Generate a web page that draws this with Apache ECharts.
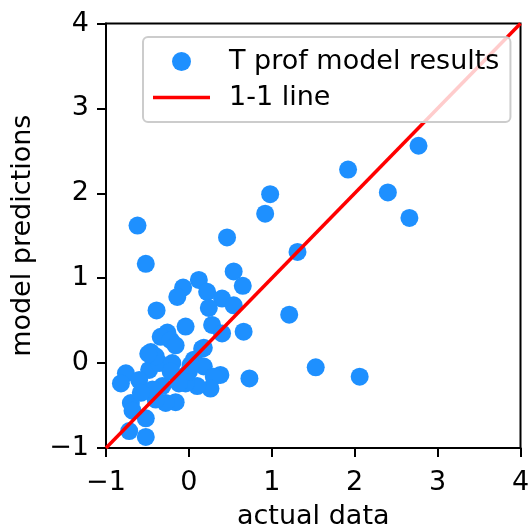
<!DOCTYPE html>
<html>
<head>
<meta charset="utf-8">
<script src="https://cdn.jsdelivr.net/npm/echarts@6/dist/echarts.min.js"></script>
<style>html,body{margin:0;padding:0;background:#fff;}#c{width:530px;height:528px;}</style>
</head>
<body>
<div id="c"></div>
<script>
// ---- data ----
const seriesNames = ['T prof model results', '1-1 line'];
const actualData = [2.77, 1.92, 2.40, 2.66, 0.98, 0.92, 0.46, 1.31, -0.62, -0.52, 0.54, 0.65, 0.12, -0.07, -0.14, 0.22, 0.40, 0.54, 0.24, -0.39, 1.21, -0.04, 0.28, 0.40, 0.66, -0.26, -0.34, -0.22, 0.18, -0.46, 1.53, 2.06, 0.73,
  -0.76, -0.82, -0.70, -0.68, -0.52, -0.72, -0.52, -0.16, -0.28, -0.40, -0.48, -0.60, -0.36, -0.20, -0.32, -0.44, -0.08, 0.06, 0.18, 0.38, 0.30, 0.26, 0.10, -0.04, 0.00, -0.22, -0.58, -0.40, 0.02, -0.12, -0.16, 0.16, -0.49];
const modelPred = [2.56, 2.28, 2.01, 1.71, 1.99, 1.76, 1.48, 1.31, 1.62, 1.17, 1.08, 0.91, 0.98, 0.89, 0.78, 0.84, 0.76, 0.68, 0.65, 0.62, 0.57, 0.43, 0.45, 0.35, 0.37, 0.36, 0.31, 0.27, 0.18, 0.13, -0.05, -0.16, -0.18,
  -0.12, -0.24, -0.47, -0.56, -0.65, -0.80, -0.87, -0.46, -0.47, -0.43, -0.08, -0.20, 0.00, 0.00, -0.27, -0.31, -0.16, 0.04, -0.04, -0.14, -0.16, -0.30, -0.27, -0.24, -0.10, -0.10, -0.35, 0.08, -0.02, -0.24, 0.21, 0.17, 0.11];
const oneToOneX = [-1, 4];
const oneToOneY = [-1, 4];
const xTicks = [-1, 0, 1, 2, 3, 4];
const yTicks = [-1, 0, 1, 2, 3, 4];
// ---------------

const FONT = 'DejaVu Sans';
const FS = 27;
const fmt = v => (v < 0 ? '\u2212' + Math.abs(v) : String(v));
const scatterData = actualData.map((x, i) => [x, modelPred[i]]);
const lineData = oneToOneX.map((x, i) => [x, oneToOneY[i]]);

const axisCommon = {
  type: 'value',
  interval: 1,
  splitLine: { show: false },
  axisLine: { show: true, onZero: false, lineStyle: { color: '#000', width: 2 } },
  axisTick: { show: true, length: 9, lineStyle: { color: '#000', width: 2 } },
  nameLocation: 'middle',
  nameTextStyle: { fontFamily: FONT, fontSize: FS, color: '#000' }
};

const chart = echarts.init(document.getElementById('c'), null, { renderer: 'canvas' });
chart.setOption({
  animation: false,
  backgroundColor: '#fff',
  grid: {
    left: 106, right: 9.5, top: 23.5, bottom: 80,
    show: true, borderColor: '#000', borderWidth: 2,
    containLabel: false, outerBoundsMode: 'none'
  },
  xAxis: Object.assign({}, axisCommon, {
    min: xTicks[0], max: xTicks[xTicks.length - 1],
    name: 'actual data', nameGap: 55,
    axisLabel: { margin: 21, fontFamily: FONT, fontSize: FS, color: '#000', formatter: fmt }
  }),
  yAxis: Object.assign({}, axisCommon, {
    min: yTicks[0], max: yTicks[yTicks.length - 1],
    name: 'model predictions', nameGap: 70, nameRotate: 90,
    axisLabel: { margin: 17, fontFamily: FONT, fontSize: FS, color: '#000', formatter: fmt }
  }),
  legend: {
    data: [
      { name: seriesNames[0], icon: 'circle' },
      { name: seriesNames[1], icon: 'path://M0,0H57V3.5H0Z' }
    ],
    orient: 'vertical',
    left: 143, top: 37,
    padding: [11, 11, 11, 10],
    itemWidth: 57, itemHeight: 19, itemGap: 9,
    symbolKeepAspect: true,
    backgroundColor: 'rgba(255,255,255,0.8)',
    borderColor: '#cccccc', borderWidth: 2, borderRadius: 5,
    textStyle: { fontFamily: FONT, fontSize: FS, color: '#000', padding: [0, 0, 0, 14] }
  },
  series: [
    {
      name: seriesNames[0], type: 'scatter', data: scatterData,
      symbol: 'circle', symbolSize: 18,
      itemStyle: { color: '#1E90FF', opacity: 1 },
      z: 2
    },
    {
      name: seriesNames[1], type: 'line', data: lineData,
      symbol: 'none', showSymbol: false,
      lineStyle: { color: '#ff0000', width: 3.5 },
      itemStyle: { color: '#ff0000' },
      z: 3
    }
  ]
});
</script>
</body>
</html>
